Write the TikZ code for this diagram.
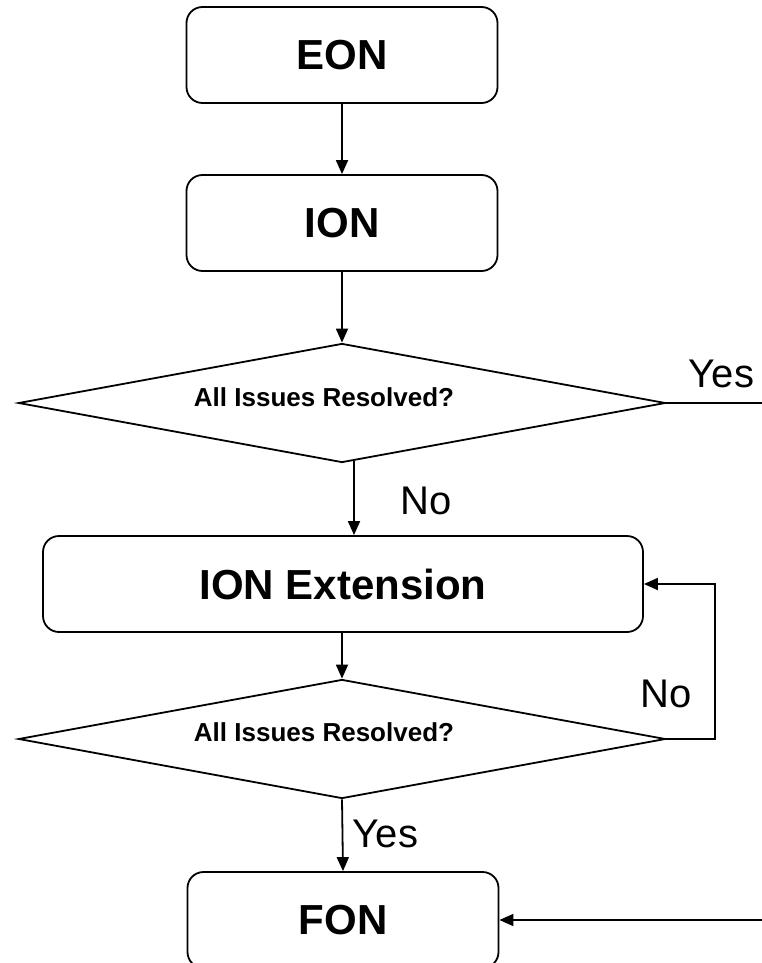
\documentclass[tikz,border=0pt]{standalone}
\usepackage{fontspec}
\setmainfont{Liberation Sans}
\usetikzlibrary{shapes.geometric,arrows.meta}
\begin{document}
\begin{tikzpicture}[x=1pt,y=-1pt,
  line width=1.8pt,
  boxnode/.style={draw,rounded corners=16pt,inner sep=0pt,font=\fontsize{42}{48}\selectfont\bfseries},
  decnode/.style={draw,diamond,inner sep=0pt,minimum width=647pt,minimum height=119pt},
  dectext/.style={inner sep=0pt,font=\fontsize{26}{30}\selectfont\bfseries},
  lbl/.style={inner sep=0pt,anchor=base west,font=\fontsize{40}{46}\selectfont},
  arr/.style={-{Triangle[length=14pt,width=12pt]}}]
\useasboundingbox (0,0) rectangle (761,963);
\node[boxnode,minimum width=311pt,minimum height=96pt] (eon) at (342,55) {EON};
\node[boxnode,minimum width=311pt,minimum height=96pt] (ion) at (342,223) {ION};
\node[decnode] (d1) at (342,403) {};
\node[dectext,anchor=base] (t1) at (324,406) {All Issues Resolved?};
\node[boxnode,minimum width=600pt,minimum height=96pt] (ext) at (343,584) {ION Extension};
\node[decnode] (d2) at (342,739) {};
\node[dectext,anchor=base] (t2) at (324,741) {All Issues Resolved?};
\node[boxnode,minimum width=311pt,minimum height=96pt] (fon) at (343,920) {FON};
\node[lbl] (yes1) at (688,387) {Yes};
\node[lbl] (no1) at (400,514) {No};
\node[lbl] (no2) at (640,707) {No};
\node[lbl] (yes2) at (352,847) {Yes};
\coordinate (n1) at (354,461);
\coordinate (yesend) at (763,403);
\coordinate (loopc) at (715,739);
\coordinate (fonin) at (763,920);
\draw[arr] (eon.south) -- (ion.north);
\draw[arr] (ion.south) -- (d1.north);
\draw[arr] (n1) -- (ext.north -| n1);
\draw[arr] (ext.south -| d2.north) -- (d2.north);
\draw[arr] (d2.east) -- (loopc) |- (ext.east);
\draw[arr] (d2.south) -- (fon.north);
\draw (d1.east) -- (yesend);
\draw[arr] (fonin) -- (fon.east);
\end{tikzpicture}
\end{document}
